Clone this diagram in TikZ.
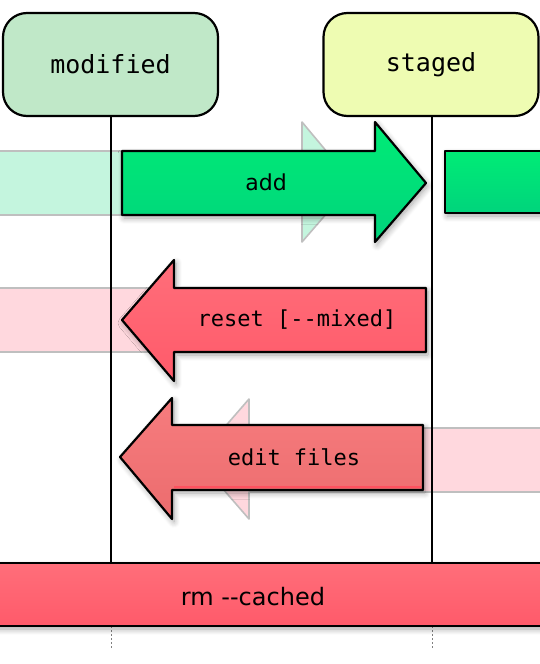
\documentclass[tikz,border=0pt]{standalone}
\usepackage{fontspec}
\newfontfamily\monofnt{DejaVu Sans Mono}
\newfontfamily\handfnt{DejaVu Sans}
\usetikzlibrary{shadows.blur}
\definecolor{modfill}{RGB}{192,232,200}
\definecolor{stgfill}{RGB}{238,252,178}
\definecolor{grtop}{RGB}{0,236,118}
\definecolor{grbot}{RGB}{0,212,124}
\definecolor{grfade}{RGB}{196,245,222}
\definecolor{rdtop}{RGB}{255,110,122}
\definecolor{rdbot}{RGB}{255,90,106}
\definecolor{edtop}{RGB}{246,124,126}
\definecolor{edbot}{RGB}{236,108,110}
\definecolor{pkfade}{RGB}{255,216,222}
\tikzset{
  outline/.style={draw=black, line width=2.2pt, line join=round},
  fadeline/.style={draw=black!25, line width=1.6pt, line join=round},
  shade/.style={blur shadow={shadow xshift=2pt, shadow yshift=-3pt, shadow blur steps=8, shadow blur radius=6pt, shadow opacity=35}},
  statebox/.style={outline, rounded corners=24pt, minimum width=215pt, minimum height=103pt, font=\monofnt\fontsize{25}{28}\selectfont},
  monolabel/.style={font=\monofnt\fontsize{22}{24}\selectfont},
  handlabel/.style={font=\handfnt\fontsize{22}{24}\selectfont},
  lane/.style={draw=black, line width=1.3pt},
  lanetail/.style={draw=black!50, line width=0.8pt, dash pattern=on 2pt off 2pt}
}
\begin{document}
\begin{tikzpicture}[x=1pt,y=-1pt]
\useasboundingbox (0,0) rectangle (539,664);
% ghost shapes (faded)
\fill[grfade] (-5,151) -- (302,151) -- (302,122) -- (353,183) -- (302,242) -- (302,215) -- (-5,215) -- cycle;
\draw[fadeline] (-5,151) -- (302,151) -- (302,122) -- (353,183) -- (302,242) -- (302,215) -- (-5,215);
\fill[pkfade] (-5,288) rectangle (180,352);
\draw[fadeline] (-5,288) -- (180,288) (-5,352) -- (180,352);
\fill[pkfade] (560,428) -- (249,428) -- (249,399) -- (197,459) -- (249,519) -- (249,492) -- (560,492) -- cycle;
\draw[fadeline] (560,428) -- (249,428) -- (249,399) -- (197,459) -- (249,519) -- (249,492) -- (560,492);
% lanes
\draw[lane] (111,117) -- (111,563);
\draw[lane] (432,117) -- (432,563);
\draw[lanetail] (111,626) -- (111,648);
\draw[lanetail] (432,626) -- (432,648);
% state boxes
\node[statebox, fill=modfill] (modified) at (110.5,64.5) {modified};
\node[statebox, fill=stgfill] (staged) at (431,64.5) {staged};
% add arrow
\draw[outline, shade, top color=grtop, bottom color=grbot] (122,151) -- (375,151) -- (375,122) -- (426,183) -- (375,242) -- (375,215) -- (122,215) -- cycle;
\node[handlabel] (add) at (266,182) {add};
\draw[outline, shade, top color=grtop, bottom color=grbot] (560,151) -- (445,151) -- (445,213) -- (560,213);
% reset arrow
\draw[outline, shade, top color=rdtop, bottom color=rdbot] (426,288) -- (174,288) -- (174,260) -- (122,320) -- (174,381) -- (174,352) -- (426,352) -- cycle;
\node[monolabel] (reset) at (297,320) {reset [-{}-mixed]};
% edit files arrow
\draw[outline, shade, top color=edtop, bottom color=edbot] (423,425) -- (172,425) -- (172,398) -- (120,457) -- (172,519) -- (172,490) -- (423,490) -- cycle;
\draw[draw=rdbot!90!red, line width=1.2pt] (174,487) -- (421,487);
\node[monolabel] (edit) at (294,457) {edit files};
% rm --cached band
\draw[outline, shade, top color=rdtop, bottom color=rdbot] (-5,563) -- (560,563) -- (560,626) -- (-5,626) -- cycle;
\node[handlabel, font=\handfnt\fontsize{24}{26}\selectfont] (rm) at (253,597) {rm -{}-cached};
\end{tikzpicture}
\end{document}
